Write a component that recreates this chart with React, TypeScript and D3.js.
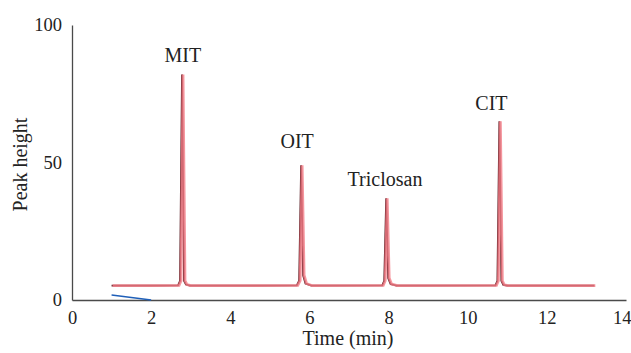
import { useEffect, useRef } from 'react';
import * as d3 from 'd3';

// chromatogram points (time in min, peak height)
const times = [1.0, 2.0, 2.68, 2.73, 2.78, 2.83, 2.88, 2.98, 5.68, 5.74, 5.79, 5.84, 5.9, 6.05, 7.84, 7.89, 7.94, 7.99, 8.05, 8.2, 10.7, 10.75, 10.8, 10.85, 10.9, 11.0, 13.2];
const heights = [5.2, 5.2, 5.3, 7, 82, 7, 5.6, 5.2, 5.3, 7, 49, 9, 6, 5.2, 5.3, 7, 37, 8, 5.8, 5.2, 5.3, 7, 65, 7, 5.5, 5.2, 5.2];

const blueTimes = [1.0, 2.0];
const blueHeights = [1.8, 0];

const peakLabels = ["MIT", "OIT", "Triclosan", "CIT"];
const peakLabelTimes = [2.8, 5.69, 7.91, 10.6];
const peakLabelHeights = [86.5, 55.3, 41.5, 69];

const xTicks = [0, 2, 4, 6, 8, 10, 12, 14];
const yTicks = [0, 50, 100];

export default function App() {
    const svgRef = useRef<SVGSVGElement>(null);
    const width = 631;
    const height = 353;

    useEffect(() => {
        if (!svgRef.current) return;
        d3.select(svgRef.current).selectAll("*").remove();
        const svg = d3.select(svgRef.current);

        const font = "'Liberation Serif', 'DejaVu Serif', serif";
        const x = d3.scaleLinear().domain([0, 14]).range([72, 626]);
        const y = d3.scaleLinear().domain([0, 100]).range([300, 25]);

        // eixos
        const xAxis = svg.append("g")
            .attr("transform", `translate(0,${y(0)})`)
            .call(d3.axisBottom(x).tickValues(xTicks).tickSize(0).tickPadding(11));
        xAxis.select(".domain").attr("stroke", "#4a4a4a").attr("stroke-width", 1.3);
        xAxis.selectAll("text")
            .style("font-family", font)
            .style("font-size", "18.5px")
            .attr("fill", "#222");
        // keep the last label inside the picture
        xAxis.selectAll<SVGTextElement, number>("text")
            .filter(d => d === 14)
            .attr("text-anchor", "end")
            .attr("x", 5);

        const yAxis = svg.append("g")
            .attr("transform", `translate(${x(0)},0)`)
            .call(d3.axisLeft(y).tickValues(yTicks).tickSize(0).tickPadding(10));
        yAxis.select(".domain").attr("stroke", "#4a4a4a").attr("stroke-width", 1.3);
        yAxis.selectAll("text")
            .style("font-family", font)
            .style("font-size", "18.5px")
            .attr("fill", "#222");

        const pts: [number, number][] = times.map((t, i) => [t, heights[i]]);
        const line = d3.line<[number, number]>()
            .x(d => x(d[0]))
            .y(d => y(d[1]));

        // dark trace under pink trace
        svg.append("path")
            .datum(pts)
            .attr("d", line)
            .attr("fill", "none")
            .attr("stroke", "#5a1e24")
            .attr("stroke-width", 1.8);
        svg.append("path")
            .datum(pts)
            .attr("d", line)
            .attr("fill", "none")
            .attr("stroke", "#f27c86")
            .attr("stroke-opacity", 0.8)
            .attr("stroke-width", 2.8)
            .attr("transform", "translate(1,0)");

        const bluePts: [number, number][] = blueTimes.map((t, i) => [t, blueHeights[i]]);
        svg.append("path")
            .datum(bluePts)
            .attr("d", line)
            .attr("fill", "none")
            .attr("stroke", "#1f5fb8")
            .attr("stroke-width", 1.5);

        svg.selectAll(".peak-label")
            .data(peakLabels)
            .enter()
            .append("text")
            .attr("class", "peak-label")
            .attr("x", (d, i) => x(peakLabelTimes[i]))
            .attr("y", (d, i) => y(peakLabelHeights[i]))
            .attr("text-anchor", "middle")
            .style("font-family", font)
            .style("font-size", "20px")
            .attr("fill", "#222")
            .text(d => d);

        svg.append("text")
            .attr("x", 348)
            .attr("y", 345)
            .attr("text-anchor", "middle")
            .style("font-family", font)
            .style("font-size", "20px")
            .attr("fill", "#222")
            .text("Time (min)");

        svg.append("text")
            .attr("transform", `translate(27,${y(50) + 2}) rotate(-90)`)
            .attr("text-anchor", "middle")
            .style("font-family", font)
            .style("font-size", "20px")
            .attr("fill", "#222")
            .text("Peak height");
    }, []);

    return (
        <svg
            ref={svgRef}
            width={width}
            height={height}
            style={{ position: "absolute", left: 0, top: 0, background: "#fff" }}
        />
    );
}
